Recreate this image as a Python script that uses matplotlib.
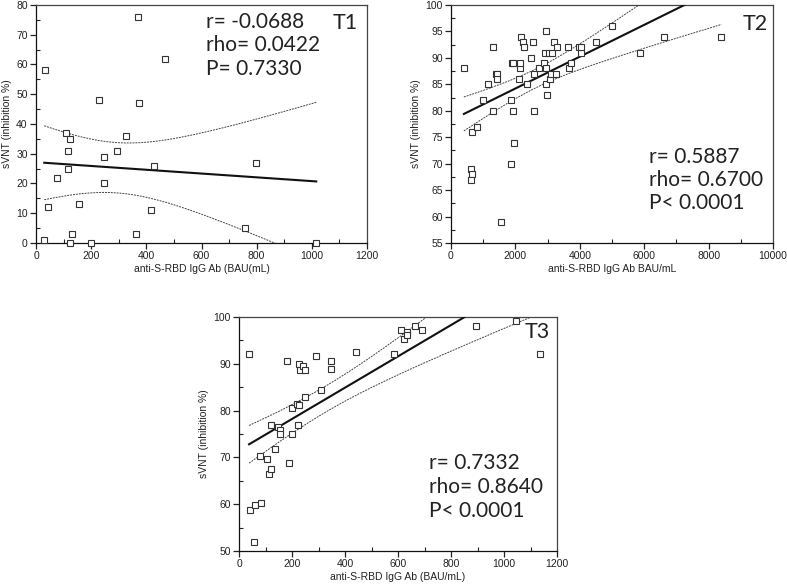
import numpy as np
import matplotlib
matplotlib.use("Agg")
import matplotlib.pyplot as plt
from matplotlib.ticker import MultipleLocator

# ---------------- data ----------------
t1_x = [30, 32, 45, 75, 110, 117, 116, 125, 129, 125, 155, 198, 230, 246, 246,
        294, 325, 363, 371, 374, 416, 428, 468, 756, 796, 1016]
t1_y = [1, 58, 12, 22, 37, 31, 25, 35, 3, 0, 13, 0, 48, 29, 20,
        31, 36, 3, 76, 47, 11, 26, 62, 5, 27, 0]

t2_x = [400, 640, 610, 650, 620, 800, 1000, 1150, 1300, 1300, 1406, 1430, 1437,
        1551, 1851, 1851, 1882, 1923, 1940, 1965, 2120, 2140, 2150, 2160, 2244,
        2264, 2357, 2481, 2553, 2585, 2585, 2740, 2885, 2906, 2937, 2947, 2957,
        2968, 3030, 3071, 3102, 3123, 3185, 3268, 3299, 3640, 3671, 3733, 3971,
        4023, 4043, 4508, 4994, 5873, 6618, 8397]
t2_y = [88, 76, 69, 68, 67, 77, 82, 85, 92, 80, 87, 87, 86,
        59, 82, 70, 89, 80, 89, 74, 86, 88, 89, 94, 93,
        92, 85, 90, 93, 87, 80, 88, 89, 91, 95, 85, 88,
        83, 91, 86, 87, 91, 93, 87, 92, 92, 88, 89, 92,
        91, 92, 93, 96, 91, 94, 94]

t3_x = [38, 43, 60, 57, 82, 78, 107, 112, 120, 120, 136, 147, 154, 154, 180,
        187, 200, 200, 217, 226, 226, 223, 231, 242, 250, 250, 292, 310, 348,
        348, 441, 586, 613, 624, 634, 635, 664, 689, 896, 1047, 1134]
t3_y = [92, 58.7, 59.8, 51.9, 60.3, 70.4, 69.6, 66.5, 67.5, 77, 71.8, 76.6, 75.8,
        74.9, 90.7, 68.9, 80.6, 75.1, 81.5, 90.0, 81.1, 76.9, 88.7, 89.5, 88.6,
        82.8, 91.7, 84.5, 90.5, 88.8, 92.6, 92.0, 97.2, 95.4, 96.7, 96.2, 98,
        97.2, 98, 99.1, 92.2]

t1_stats = ["r= -0.0688", "rho= 0.0422", "P= 0.7330"]
t2_stats = ["r= 0.5887", "rho= 0.6700", "P< 0.0001"]
t3_stats = ["r= 0.7332", "rho= 0.8640", "P< 0.0001"]

T_CRIT = 2.03  # ~95% two-sided t quantile

W, H = 787, 584
fig = plt.figure(figsize=(W / 100, H / 100), dpi=100)
plt.rcParams['font.family'] = ['Liberation Sans', 'DejaVu Sans']

def px_axes(l, r, t, b):
    return fig.add_axes([l / W, 1 - b / H, (r - l) / W, (b - t) / H])

def panel(ax, x, y, xlim, ylim, xmaj, xmin_, ymaj, ymin_, xlabel, stats,
          stat_pos, step, tag, tag_pos):
    x = np.asarray(x, float); y = np.asarray(y, float)
    n = len(x)
    b, a = np.polyfit(x, y, 1)
    xs = np.linspace(x.min(), x.max(), 300)
    yhat = a + b * xs
    resid = y - (a + b * x)
    s = np.sqrt(np.sum(resid ** 2) / (n - 2))
    sxx = np.sum((x - x.mean()) ** 2)
    hw = T_CRIT * s * np.sqrt(1 / n + (xs - x.mean()) ** 2 / sxx)
    ax.plot(xs, yhat, color='#111111', lw=1.5, zorder=3)
    ax.plot(xs, yhat + hw, color='#444444', lw=0.7, ls=(0, (2, 1)), zorder=2)
    ax.plot(xs, yhat - hw, color='#444444', lw=0.7, ls=(0, (2, 1)), zorder=2)
    ax.plot(x, y, ls='none', marker='s', ms=4.2, mfc='white', mec='#333333',
            mew=0.8, zorder=4, clip_on=False)
    ax.set_xlim(*xlim); ax.set_ylim(*ylim)
    ax.xaxis.set_major_locator(MultipleLocator(xmaj))
    ax.xaxis.set_minor_locator(MultipleLocator(xmin_))
    ax.yaxis.set_major_locator(MultipleLocator(ymaj))
    ax.yaxis.set_minor_locator(MultipleLocator(ymin_))
    ax.tick_params(which='major', direction='out', length=4, width=0.9,
                   labelsize=7.5, color='#222222', labelcolor='#222222', pad=2)
    ax.tick_params(which='minor', direction='in', length=3, width=0.8,
                   color='#222222')
    for sp in ax.spines.values():
        sp.set_color('#444444'); sp.set_linewidth(0.9)
    ax.spines['left'].set_color('#111111'); ax.spines['bottom'].set_color('#111111')
    ax.set_xlabel(xlabel, fontsize=7.5, color='#222222', labelpad=2)
    ax.set_ylabel('sVNT (inhibition %)', fontsize=7.5, color='#222222', labelpad=3)
    tx, ty = stat_pos
    for i, line in enumerate(stats):
        ax.text(tx, ty - i * step, line, transform=ax.transAxes, fontsize=15,
                family=['Lato', 'DejaVu Sans'], color='#222222', va='center',
                ha='left')
    ax.text(tag_pos[0], tag_pos[1], tag, transform=ax.transAxes, fontsize=15.5,
            family=['Lato', 'DejaVu Sans'], color='#222222', va='center',
            ha='left')

ax1 = px_axes(36, 367, 5, 243)
panel(ax1, t1_x, t1_y, (0, 1200), (0, 80), 200, 100, 10, 5,
      'anti-S-RBD IgG Ab (BAU(mL)', t1_stats, (0.515, 0.93), 0.10,
      'T1', (0.895, 0.925))

ax2 = px_axes(451, 773, 5, 243)
panel(ax2, t2_x, t2_y, (0, 10000), (55, 100), 2000, 1000, 5, 2.5,
      'anti-S-RBD IgG Ab BAU/mL', t2_stats, (0.615, 0.36), 0.097,
      'T2', (0.905, 0.922))

ax3 = px_axes(239, 557, 317, 551)
panel(ax3, t3_x, t3_y, (0, 1200), (50, 100), 200, 100, 10, 5,
      'anti-S-RBD IgG Ab (BAU/mL)', t3_stats, (0.598, 0.375), 0.102,
      'T3', (0.898, 0.935))

fig.savefig('out.png', dpi=100)
